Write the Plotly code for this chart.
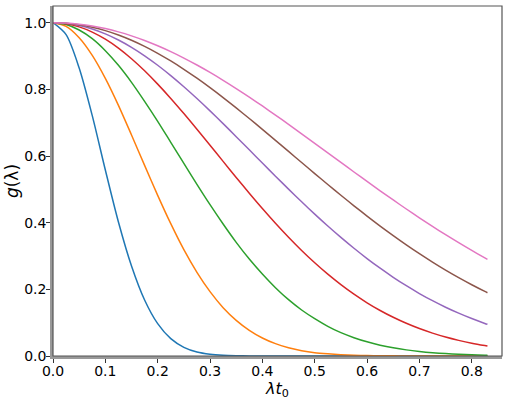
import plotly.graph_objects as go

# lambda * t0 sample points
x_vals = [0.0, 0.025, 0.05, 0.075, 0.1, 0.125, 0.15, 0.175, 0.2, 0.225, 0.25, 0.275,
          0.3, 0.325, 0.35, 0.375, 0.4, 0.425, 0.45, 0.475, 0.5, 0.525, 0.55, 0.575,
          0.6, 0.625, 0.65, 0.675, 0.7, 0.725, 0.75, 0.775, 0.8, 0.825, 0.83]

g_blue = [1.0, 0.964, 0.864, 0.721, 0.558, 0.402, 0.270, 0.168, 0.097, 0.052, 0.026, 0.012,
          0.0053, 0.0021, 0.0008, 0.0003, 0.0001] + [0.0] * 18
g_orange = [1.0, 0.989, 0.955, 0.902, 0.833, 0.752, 0.663, 0.572, 0.482, 0.397, 0.319, 0.251,
            0.193, 0.145, 0.107, 0.077, 0.054, 0.037, 0.025, 0.016, 0.010, 0.0065, 0.004, 0.0024,
            0.0014, 0.0008, 0.0004, 0.0002, 0.0001] + [0.0] * 6
g_green = [1.0, 0.9945, 0.978, 0.952, 0.916, 0.872, 0.821, 0.764, 0.704, 0.641, 0.578, 0.515,
           0.454, 0.396, 0.341, 0.291, 0.246, 0.205, 0.169, 0.138, 0.112, 0.089, 0.070, 0.055,
           0.0425, 0.0325, 0.0246, 0.0184, 0.0136, 0.0099, 0.0072, 0.0051, 0.0036, 0.0026, 0.0024]
g_red = [1.0, 0.9968, 0.9873, 0.9717, 0.9503, 0.9235, 0.8917, 0.8555, 0.8156, 0.7727, 0.7273, 0.6802,
         0.6322, 0.5838, 0.5357, 0.4884, 0.4425, 0.3984, 0.3564, 0.3167, 0.2797, 0.2455, 0.2141, 0.1855,
         0.1597, 0.1366, 0.1162, 0.0981, 0.0823, 0.0687, 0.0569, 0.0469, 0.0383, 0.0312, 0.0299]
g_purple = [1.0, 0.9979, 0.9915, 0.9810, 0.9664, 0.9480, 0.9260, 0.9006, 0.8723, 0.8412, 0.8077, 0.7723,
            0.7353, 0.6971, 0.6580, 0.6185, 0.5789, 0.5395, 0.5006, 0.4626, 0.4256, 0.3899, 0.3557, 0.3232,
            0.2923, 0.2633, 0.2361, 0.2108, 0.1874, 0.1660, 0.1463, 0.1285, 0.1123, 0.0977, 0.0950]
g_brown = [1.0, 0.9985, 0.9940, 0.9865, 0.9762, 0.9630, 0.9472, 0.9288, 0.9081, 0.8851, 0.8601, 0.8333,
           0.8049, 0.7752, 0.7443, 0.7124, 0.6799, 0.6469, 0.6137, 0.5804, 0.5473, 0.5145, 0.4822, 0.4506,
           0.4198, 0.3899, 0.3611, 0.3333, 0.3068, 0.2816, 0.2576, 0.2350, 0.2137, 0.1937, 0.1899]
g_pink = [1.0, 0.9989, 0.9955, 0.9899, 0.9822, 0.9723, 0.9604, 0.9465, 0.9306, 0.9131, 0.8938, 0.8729,
          0.8507, 0.8271, 0.8024, 0.7767, 0.7501, 0.7228, 0.6950, 0.6667, 0.6381, 0.6094, 0.5807, 0.5520,
          0.5237, 0.4957, 0.4681, 0.4410, 0.4146, 0.3889, 0.3639, 0.3398, 0.3166, 0.2944, 0.2900]

curves = [g_blue, g_orange, g_green, g_red, g_purple, g_brown, g_pink]
colors = ['#1f77b4', '#ff7f0e', '#2ca02c', '#d62728', '#9467bd', '#8c564b', '#e377c2']

x_ticks = [0.0, 0.1, 0.2, 0.3, 0.4, 0.5, 0.6, 0.7, 0.8]
y_ticks = [0.0, 0.2, 0.4, 0.6, 0.8, 1.0]

fig = go.Figure()
for g, c in zip(curves, colors):
    fig.add_trace(go.Scatter(x=x_vals, y=g, mode='lines',
                             line=dict(color=c, width=1.5, shape='spline', smoothing=0.8),
                             showlegend=False))

font = dict(family='DejaVu Sans', size=14, color='black')
xtitle_font = dict(family='DejaVu Sans', size=16, color='black')
ytitle_font = dict(family='DejaVu Sans', size=17, color='black')

# thin frame round the plot area (top/right spines)
fig.add_shape(type='rect', xref='paper', yref='paper', x0=0, y0=0, x1=1, y1=1,
              line=dict(color='#555', width=1.2), layer='above')

fig.update_layout(
    width=508, height=400,
    margin=dict(l=53, r=6, t=6, b=44),
    paper_bgcolor='white', plot_bgcolor='white',
    font=font,
    xaxis=dict(range=[0, 0.8578], tickvals=x_ticks, ticktext=[f'{t:.1f}' for t in x_ticks],
               showgrid=False, zeroline=False, showline=True, linecolor='#999', linewidth=2.5,
               ticks='outside', ticklen=4, tickwidth=1, tickcolor='#333', ticklabelstandoff=-4,
               title=dict(text='<i>λt</i><sub>0</sub>', font=xtitle_font, standoff=0)),
    yaxis=dict(range=[0, 1.05], tickvals=y_ticks, ticktext=[f'{t:.1f}' for t in y_ticks],
               showgrid=False, zeroline=False, showline=True, linecolor='#999', linewidth=2.5,
               ticks='outside', ticklen=4, tickwidth=1, tickcolor='#333', ticklabelstandoff=-3,
               title=dict(text='<i>g</i>(λ)', font=ytitle_font, standoff=2)),
)

# drop the default page margin so the figure sits at the window's corner
fig.write_html("out.html", config={'displayModeBar': False},
               post_script="document.body.style.margin='0';")
